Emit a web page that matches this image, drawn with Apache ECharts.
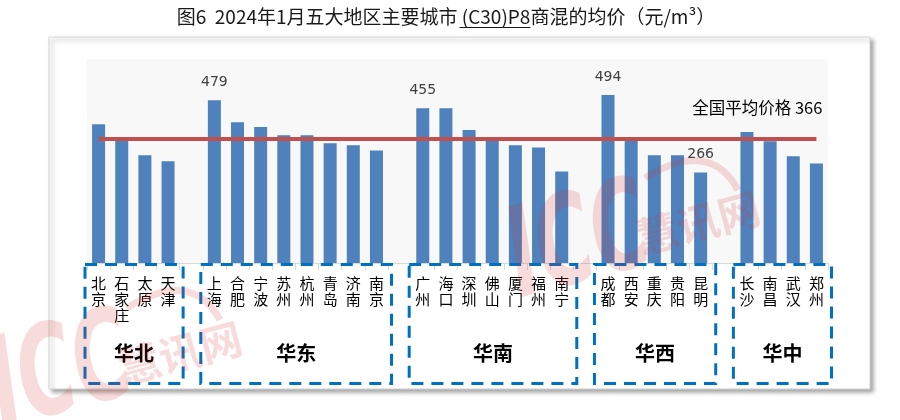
<!DOCTYPE html>
<html>
<head>
<meta charset="utf-8">
<script src="https://cdn.jsdelivr.net/npm/echarts@6/dist/echarts.min.js"></script>
<style>html,body{margin:0;padding:0;background:#fff}#c{width:900px;height:420px}</style>
</head>
<body>
<div id="c"></div>
<script>
// ---- data ----
const regionNames = ['华北', '华东', '华南', '华西', '华中'];
const cityGroups = [
  ['北京', '石家庄', '太原', '天津'],
  ['上海', '合肥', '宁波', '苏州', '杭州', '青岛', '济南', '南京'],
  ['广州', '海口', '深圳', '佛山', '厦门', '福州', '南宁'],
  ['成都', '西安', '重庆', '贵阳', '昆明'],
  ['长沙', '南昌', '武汉', '郑州']
];
const valueGroups = [
  [408, 368, 317, 299],
  [479, 414, 400, 376, 376, 352, 346, 331],
  [455, 455, 391, 364, 346, 340, 269],
  [494, 364, 317, 317, 266],
  [385, 358, 314, 293]
];
const labelledCities = ['上海', '广州', '成都', '昆明'];
const nationalAverage = 366;
const averageLabel = '全国平均价格';
const titleParts = ['图6  2024年1月五大地区主要城市', ' (C30)P8', '商混的均价（元/m³）'];
const yMax = 600;

// ---- build category axis with gaps between regions ----
const categories = [];
const values = [];
const regionRanges = [];
cityGroups.forEach((g, gi) => {
  if (gi > 0) { categories.push(''); values.push(null); }
  const start = categories.length;
  g.forEach((c, ci) => { categories.push(c); values.push(valueGroups[gi][ci]); });
  regionRanges.push([start, categories.length - 1]);
});
const barData = values.map((v, i) => {
  if (v === null) return null;
  const show = labelledCities.indexOf(categories[i]) >= 0;
  return { value: v, label: { show: show } };
});

const chart = echarts.init(document.getElementById('c'));
const FONT = '"Noto Sans CJK SC", "Noto Sans", sans-serif';

chart.setOption({
  animation: false,
  grid: { left: 87, right: 72, top: 59, bottom: 157, containLabel: false },
  xAxis: {
    type: 'category',
    data: categories,
    axisLine: { show: true, lineStyle: { color: '#d9d9d9', width: 1 } },
    axisTick: { show: true, interval: 0, length: 7, lineStyle: { color: '#d9d9d9' } },
    axisLabel: {
      interval: 0, margin: 12, color: '#000', fontSize: 15, lineHeight: 16,
      fontFamily: FONT,
      formatter: v => v.split('').join('\n')
    }
  },
  yAxis: {
    type: 'value', min: 0, max: yMax,
    show: false, splitLine: { show: false }
  },
  series: [{
    type: 'bar',
    data: barData,
    barWidth: 13,
    itemStyle: { color: '#4F81BD' },
    label: {
      position: 'top', distance: 11, color: '#404040', fontSize: 14,
      fontFamily: '"DejaVu Sans", sans-serif'
    },
    markLine: {
      symbol: 'none', silent: true,
      lineStyle: { color: '#C0504D', width: 4, type: 'solid' },
      label: { show: false },
      data: [[
        { coord: [0, nationalAverage] },
        { coord: [categories.length - 1, nationalAverage] }
      ]]
    },
    z: 3
  }]
});

// ---- decorations computed from the chart's scales ----
function px(idx, val) { return chart.convertToPixel({ xAxisIndex: 0, yAxisIndex: 0 }, [idx, val]); }
const grid = chart.getModel().getComponent('grid').coordinateSystem.getRect();
const band = grid.width / categories.length;
const axisY = grid.y + grid.height;

const graphics = [];
// outer frame
graphics.push({
  type: 'rect', z: -20, silent: true,
  shape: { x: 49, y: 37, width: 821, height: 352 },
  style: { fill: '#fff', stroke: '#d4d4d4', lineWidth: 1,
    shadowBlur: 4, shadowOffsetX: 3, shadowOffsetY: 3, shadowColor: 'rgba(0,0,0,0.35)' }
});
// plot background
graphics.push({
  type: 'rect', z: -10, silent: true,
  shape: { x: grid.x, y: grid.y, width: grid.width, height: grid.height },
  style: { fill: '#f8f8f8' }
});
// region boxes and names
regionRanges.forEach((r, i) => {
  const x0 = px(r[0], 0)[0] - band / 2 - 2;
  const x1 = px(r[1], 0)[0] + band / 2 + 3.5;
  graphics.push({
    type: 'rect', z: 10, silent: true,
    shape: { x: x0, y: axisY + 1.5, width: x1 - x0, height: 119 },
    style: { fill: 'none', stroke: '#0070C0', lineWidth: 3, lineDash: [12, 8] }
  });
  graphics.push({
    type: 'text', z: 11, silent: true,
    x: (x0 + x1) / 2, y: 353,
    style: { text: regionNames[i], fill: '#000', font: 'bold 20px ' + FONT,
      align: 'center', verticalAlign: 'middle' }
  });
});
// average label
const endPt = px(categories.length - 1, nationalAverage);
graphics.push({
  type: 'text', z: 12, silent: true,
  x: endPt[0] + 6, y: endPt[1] - 31,
  style: { text: averageLabel + ' ' + nationalAverage, fill: '#000', font: '16.5px ' + FONT,
    align: 'right', verticalAlign: 'middle' }
});
// title with underlined middle part
const cv = document.createElement('canvas').getContext('2d');
const titleFont = '19px ' + FONT;
cv.font = titleFont;
const widths = titleParts.map(t => cv.measureText(t).width);
const totalW = widths.reduce((a, b) => a + b, 0);
let tx = 446 - totalW / 2;
titleParts.forEach((t, i) => {
  graphics.push({
    type: 'text', silent: true, x: tx, y: 17,
    style: { text: t, fill: '#1a1a1a', font: titleFont, align: 'left', verticalAlign: 'middle' }
  });
  if (i === 1) {
    graphics.push({
      type: 'line', silent: true,
      shape: { x1: tx + 2, y1: 27.5, x2: tx + widths[i], y2: 27.5 },
      style: { stroke: '#1a1a1a', lineWidth: 1 }
    });
  }
  tx += widths[i];
});
// watermarks
const wmColor = 'rgba(215,50,50,0.17)';
function watermark(cx, cy, s) {
  graphics.push({
    type: 'text', z: 50, silent: true, x: cx, y: cy, rotation: 0.26, scaleX: 0.62,
    style: { text: 'ICC', fill: wmColor, font: 'italic bold ' + Math.round(125 * s) + 'px "DejaVu Sans", sans-serif',
      align: 'center', verticalAlign: 'middle' }
  });
  graphics.push({
    type: 'text', z: 50, silent: true, x: cx + 118 * s, y: cy - 25 * s, rotation: 0.26,
    style: { text: '慧讯网', fill: wmColor, font: 'bold ' + Math.round(42 * s) + 'px ' + FONT,
      align: 'center', verticalAlign: 'middle' }
  });
  graphics.push({
    type: 'bezierCurve', z: 50, silent: true,
    shape: { x1: cx + 65 * s, y1: cy - 70 * s, cpx1: cx + 130 * s, cpy1: cy - 110 * s,
      x2: cx + 158 * s, y2: cy - 58 * s },
    style: { fill: 'none', stroke: wmColor, lineWidth: 7 * s }
  });
}
watermark(580, 248, 1);
watermark(62, 378, 1);

chart.setOption({ graphic: graphics });
</script>
</body>
</html>
